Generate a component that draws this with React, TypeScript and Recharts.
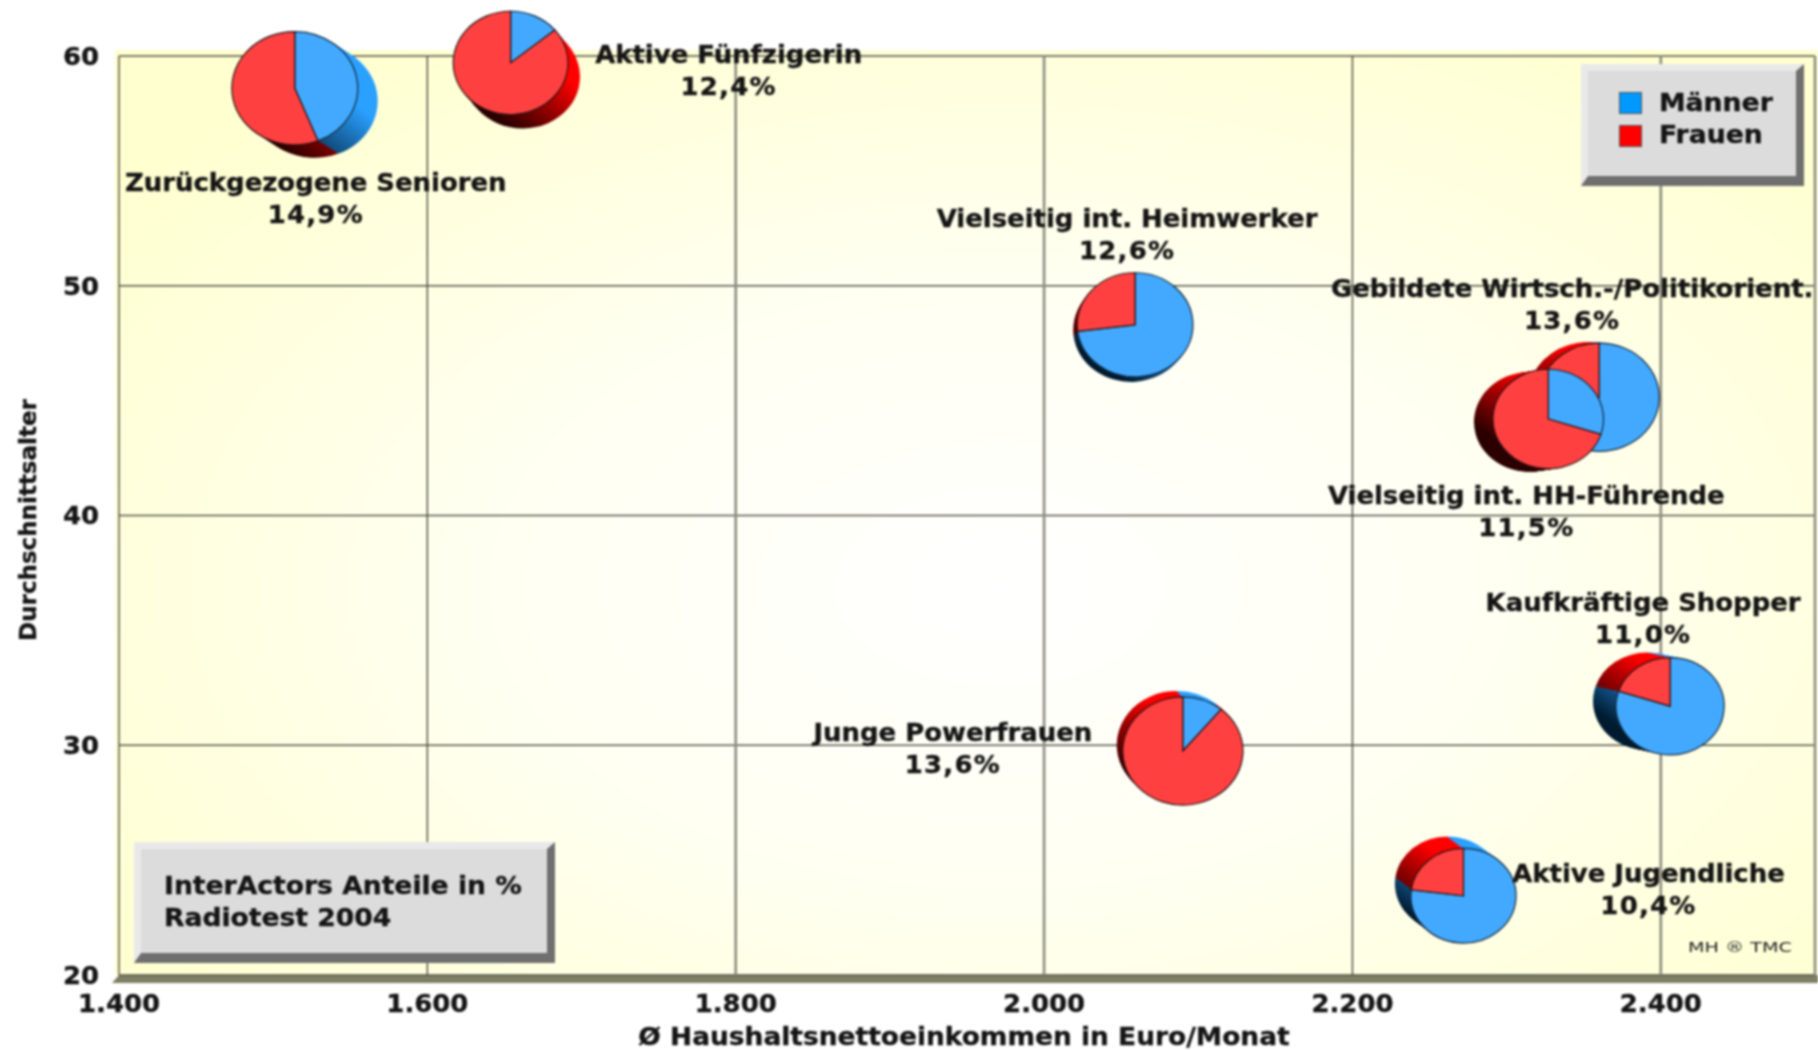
import {
  CartesianGrid,
  Label,
  Legend,
  ReferenceLine,
  Scatter,
  ScatterChart,
  XAxis,
  YAxis,
} from "recharts";

const segments = [
  "Zurückgezogene Senioren",
  "Aktive Fünfzigerin",
  "Vielseitig int. Heimwerker",
  "Gebildete Wirtsch.-/Politikorient.",
  "Vielseitig int. HH-Führende",
  "Kaufkräftige Shopper",
  "Junge Powerfrauen",
  "Aktive Jugendliche",
];
const incomes = [1514, 1654, 2059, 2360, 2327, 2406, 2090, 2272];
const ages = [58.6, 59.7, 48.3, 45.15, 44.2, 31.7, 29.75, 23.45];
const shares = [14.9, 12.4, 12.6, 13.6, 11.5, 11.0, 13.6, 10.4];
const menPercent = [44, 14, 73, 58, 30, 80, 11, 77];

const xTicks = [1400, 1600, 1800, 2000, 2200, 2400];
const yTicks = [20, 30, 40, 50, 60];
const legendItems = [
  { name: "Männer", color: "#0099ff" },
  { name: "Frauen", color: "#ff0000" },
];

const rows = segments.map((name, i) => ({
  name,
  income: incomes[i],
  age: ages[i],
  share: shares[i],
  men: menPercent[i],
  index: i,
}));

// pixel styling per pie: extrusion direction and where its caption sits
const depths = [
  [20, 13],
  [12, 14],
  [-4, 5],
  [-11, -1],
  [-19, 3],
  [-23, -5],
  [-6, -6],
  [-16, -12],
];
const captionOffsets = [
  [21, 94],
  [218, -9],
  [-8, -107],
  [-27, -109],
  [-22, 76],
  [-27, -104],
  [-230, -19],
  [185, -23],
];
// the scan resampled some vertical grid lines wider and paler than others
const softGridX = [1800, 2000, 2400, 2500];
const hardGridX = [1400, 1600, 2200];

const STRETCH = 1.05;
const FONT = "'DejaVu Sans', sans-serif";
const INK = "#141414";

function WideText({ x, y, size = 24.7, anchor = "middle", spacing = 0, children }: any) {
  return (
    <text
      transform={`translate(${x} ${y}) scale(${STRETCH} 1)`}
      textAnchor={anchor}
      dominantBaseline="central"
      fontFamily={FONT}
      fontWeight="bold"
      fontSize={size}
      letterSpacing={spacing}
      fill={INK}
      stroke={INK}
      strokeWidth={0.35}
    >
      {children}
    </text>
  );
}

function wedge(cx: number, cy: number, rx: number, ry: number, from: number, to: number) {
  const a0 = (from / 100) * 2 * Math.PI;
  const a1 = (to / 100) * 2 * Math.PI;
  const large = to - from > 50 ? 1 : 0;
  const x0 = cx + rx * Math.sin(a0);
  const y0 = cy - ry * Math.cos(a0);
  const x1 = cx + rx * Math.sin(a1);
  const y1 = cy - ry * Math.cos(a1);
  return `M${cx} ${cy}L${x0} ${y0}A${rx} ${ry} 0 ${large} 1 ${x1} ${y1}Z`;
}

function PieMark(props: any) {
  const { cx, cy, payload } = props;
  const rx = 16.3 * Math.sqrt(payload.share);
  const ry = rx * 0.9;
  const [dx, dy] = depths[payload.index];
  const steps = Math.max(Math.abs(dx), Math.abs(dy));
  const layers = [];
  for (let s = steps; s > 0; s--) layers.push(s / steps);
  const idM = `side-m-${payload.index}`;
  const idW = `side-w-${payload.index}`;
  const grad = {
    gradientUnits: "userSpaceOnUse" as const,
    x1: cx - rx,
    y1: cy + ry,
    x2: cx,
    y2: cy - ry * 0.5,
  };
  return (
    <g>
      <defs>
        <linearGradient id={idM} {...grad}>
          <stop offset="0.25" stopColor="#001a30" />
          <stop offset="1" stopColor="#2aa0ff" />
        </linearGradient>
        <linearGradient id={idW} {...grad}>
          <stop offset="0.25" stopColor="#2a0000" />
          <stop offset="1" stopColor="#ff0000" />
        </linearGradient>
      </defs>
      {layers.map((t) => (
        <g key={t}>
          <path d={wedge(cx + dx * t, cy + dy * t, rx, ry, 0, payload.men)} fill={`url(#${idM})`} />
          <path d={wedge(cx + dx * t, cy + dy * t, rx, ry, payload.men, 100)} fill={`url(#${idW})`} />
        </g>
      ))}
      <path
        d={wedge(cx, cy, rx, ry, 0, payload.men)}
        fill="#42a9ff"
        stroke="#14283a"
        strokeWidth={1.2}
      />
      <path
        d={wedge(cx, cy, rx, ry, payload.men, 100)}
        fill="#ff4040"
        stroke="#2a1414"
        strokeWidth={1.2}
      />
    </g>
  );
}

function Caption(props: any) {
  const { cx, cy, payload } = props;
  const [ox, oy] = captionOffsets[payload.index];
  return (
    <g>
      <WideText x={cx + ox} y={cy + oy}>
        {payload.name}
      </WideText>
      <WideText x={cx + ox} y={cy + oy + 32} spacing={1.2}>
        {payload.share.toFixed(1).replace(".", ",") + "%"}
      </WideText>
    </g>
  );
}

function BevelBox({ style, children }: any) {
  return (
    <div
      style={{
        position: "absolute",
        boxSizing: "border-box",
        background: "#dcdcdc",
        borderStyle: "solid",
        borderWidth: "7px 8px 10px 7px",
        borderColor: "#e9e9e9 #6f6f6f #6f6f6f #e9e9e9",
        fontFamily: FONT,
        fontWeight: "bold",
        fontSize: 24.5,
        WebkitTextStroke: `0.35px ${INK}`,
        color: INK,
        ...style,
      }}
    >
      {children}
    </div>
  );
}

function LegendBox() {
  return (
    <BevelBox style={{ left: 0, top: 0, width: 223, height: 122 }}>
      {legendItems.map((item, i) => (
        <div key={item.name}>
          <div
            style={{
              position: "absolute",
              left: 31,
              top: 21 + i * 33,
              width: 23,
              height: 22,
              background: item.color,
              boxSizing: "border-box",
              border: "1px solid #555",
            }}
          />
          <div
            style={{
              position: "absolute",
              left: 71,
              top: 18 + i * 32,
              lineHeight: "28px",
              transform: "scaleX(1.09)",
              transformOrigin: "left center",
              whiteSpace: "nowrap",
            }}
          >
            {item.name}
          </div>
        </div>
      ))}
    </BevelBox>
  );
}

export default function App() {
  return (
    <div
      style={{
        position: "absolute",
        left: 0,
        top: 0,
        width: 1818,
        height: 1051,
        background: "#ffffff",
        overflow: "hidden",
        filter: "blur(0.8px)",
      }}
    >
      <div
        style={{
          position: "absolute",
          left: 115,
          top: 50,
          width: 1703,
          height: 925,
          background:
            "radial-gradient(ellipse 66% 72% at 52% 58%, #ffffff 0%, #fffff2 45%, #ffffcf 100%)",
        }}
      />
      <div
        style={{
          position: "absolute",
          left: 112,
          top: 975,
          width: 1706,
          height: 8,
          background: "#7f7f66",
          clipPath: "polygon(7px 0, 100% 0, 100% 100%, 0 100%)",
        }}
      />
      <ScatterChart
        width={1818}
        height={1051}
        margin={{ top: 56, right: 3, bottom: 36, left: 59 }}
        style={{ position: "absolute", left: 0, top: 0 }}
      >
        <CartesianGrid vertical={false} stroke="#55554a" strokeWidth={1.4} />
        <XAxis
          type="number"
          dataKey="income"
          domain={[1400, 2500]}
          ticks={xTicks}
          height={40}
          axisLine={false}
          tickLine={false}
          interval={0}
          tick={(p: any) => (
            <WideText x={p.x} y={1003}>
              {Number(p.payload.value).toLocaleString("de-DE")}
            </WideText>
          )}
        >
          <Label
            content={() => (
              <WideText x={964} y={1036} size={25.2}>
                Ø Haushaltsnettoeinkommen in Euro/Monat
              </WideText>
            )}
          />
        </XAxis>
        <YAxis
          type="number"
          dataKey="age"
          domain={[20, 60]}
          ticks={yTicks}
          width={60}
          axisLine={false}
          tickLine={false}
          interval={0}
          tick={(p: any) => (
            <WideText x={99} y={p.y} anchor="end">
              {p.payload.value}
            </WideText>
          )}
        >
          <Label
            content={() => (
              <text
                transform="translate(28 520) rotate(-90)"
                textAnchor="middle"
                dominantBaseline="central"
                fontFamily={FONT}
                fontWeight="bold"
                fontSize={23}
                fill={INK}
                stroke={INK}
                strokeWidth={0.35}
              >
                Durchschnittsalter
              </text>
            )}
          />
        </YAxis>
        {hardGridX.map((x) => (
          <ReferenceLine key={x} x={x} stroke="#4c4c42" strokeWidth={1.4} />
        ))}
        {softGridX.map((x) => (
          <ReferenceLine key={x} x={x} stroke="#8c8c80" strokeWidth={2.6} />
        ))}
        <Scatter data={rows} shape={PieMark} isAnimationActive={false} />
        <Scatter data={rows} shape={Caption} isAnimationActive={false} />
        <Legend
          layout="vertical"
          align="center"
          verticalAlign="middle"
          wrapperStyle={{ left: 1581, top: 64, width: 223, height: 122 }}
          content={() => <LegendBox />}
        />
      </ScatterChart>
      <BevelBox style={{ left: 134, top: 842, width: 421, height: 121 }}>
        <div
          style={{
            position: "absolute",
            left: 23,
            top: 21,
            lineHeight: "32px",
            transform: "scaleX(1.085)",
            transformOrigin: "left top",
            whiteSpace: "nowrap",
          }}
        >
          InterActors Anteile in %
          <br />
          Radiotest 2004
        </div>
      </BevelBox>
      <div
        style={{
          position: "absolute",
          left: 1688,
          top: 938,
          fontFamily: FONT,
          fontSize: 14.5,
          lineHeight: "18px",
          color: "#222",
          transform: "scaleX(1.32)",
          transformOrigin: "left top",
          whiteSpace: "nowrap",
        }}
      >
        MH ® TMC
      </div>
    </div>
  );
}
